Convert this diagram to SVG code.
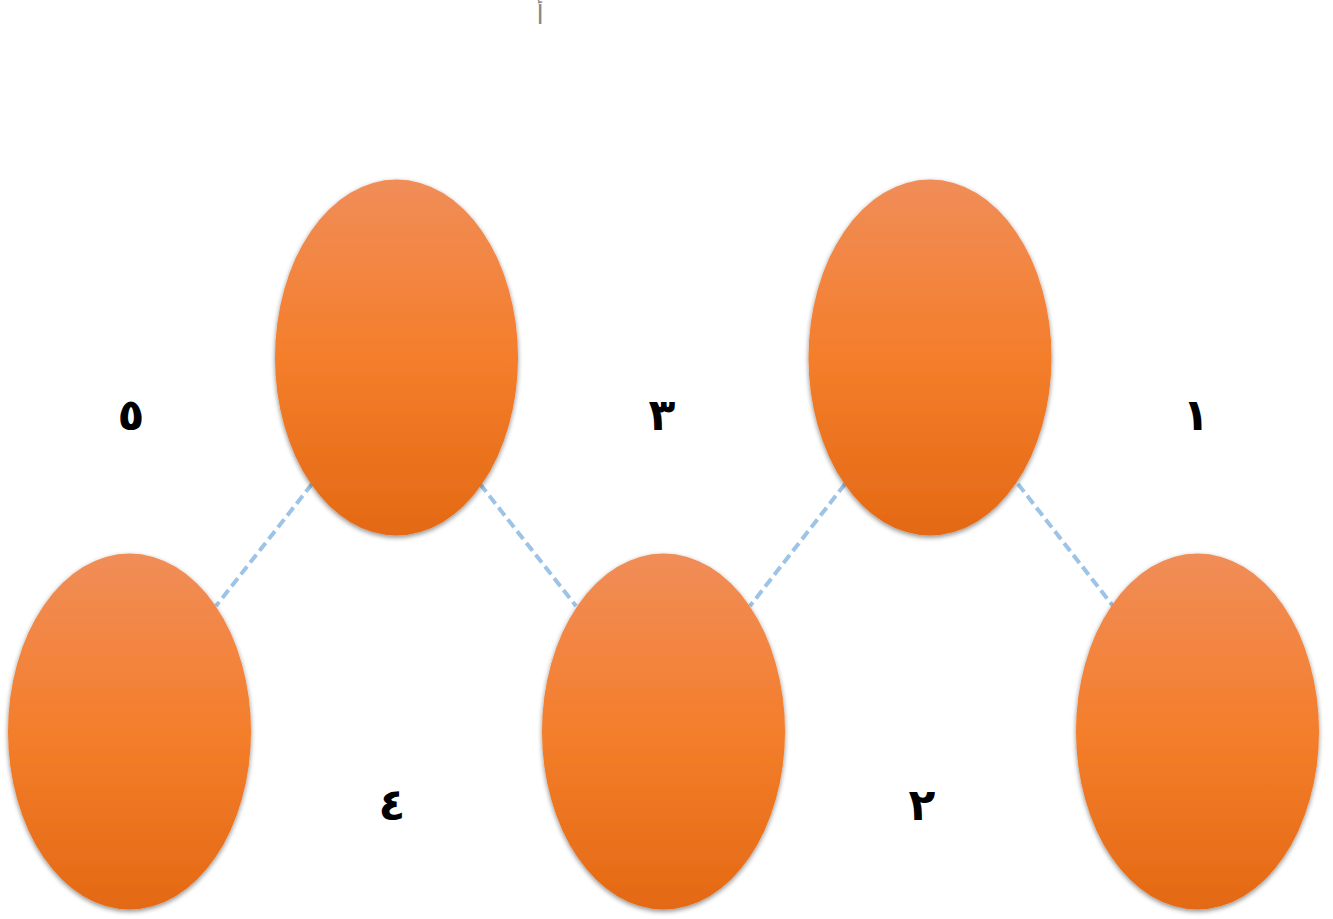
<svg xmlns="http://www.w3.org/2000/svg" width="1333" height="919" viewBox="0 0 1333 919">
<defs>
<linearGradient id="og" x1="0" y1="0" x2="0" y2="1">
<stop offset="0" stop-color="#F08D58"/>
<stop offset="0.5" stop-color="#F47E2B"/>
<stop offset="1" stop-color="#E46914"/>
</linearGradient>
<filter id="sh" x="-20%" y="-20%" width="140%" height="140%">
<feGaussianBlur in="SourceAlpha" stdDeviation="2.5"/>
<feOffset dx="0" dy="2" result="b"/>
<feComponentTransfer><feFuncA type="linear" slope="0.45"/></feComponentTransfer>
<feMerge><feMergeNode/><feMergeNode in="SourceGraphic"/></feMerge>
</filter>
</defs>
<style>
.conn{stroke:#9DC3E6;stroke-width:4;stroke-dasharray:10,5;fill:none}
.node{fill:url(#og);filter:url(#sh)}
.num{font-family:"DejaVu Sans",sans-serif;font-weight:bold;font-size:44px;fill:#000;text-anchor:middle}
</style>
<rect width="1333" height="919" fill="#fff"/>
<text x="540" y="24" font-family="DejaVu Sans, sans-serif" font-size="26" fill="#888" text-anchor="middle">أ</text>
<g id="connectors">
<line class="conn" x1="312" y1="484" x2="216" y2="606"/>
<line class="conn" x1="480" y1="484" x2="576" y2="606"/>
<line class="conn" x1="845" y1="484" x2="750" y2="606"/>
<line class="conn" x1="1018" y1="484" x2="1113" y2="606"/>
</g>
<g id="node-top-left"><ellipse class="node" cx="396.5" cy="357.5" rx="121.5" ry="178"/></g>
<g id="node-top-right"><ellipse class="node" cx="930" cy="357.5" rx="121.5" ry="178"/></g>
<g id="node-bottom-left"><ellipse class="node" cx="129.5" cy="731.5" rx="121.5" ry="178"/></g>
<g id="node-bottom-mid"><ellipse class="node" cx="663.5" cy="731.5" rx="121.5" ry="178"/></g>
<g id="node-bottom-right"><ellipse class="node" cx="1197.5" cy="731.5" rx="121.5" ry="178"/></g>
<g id="labels">
<text class="num" x="131" y="430">٥</text>
<text class="num" x="662" y="430">٣</text>
<text class="num" x="1196" y="430">١</text>
<text class="num" x="392" y="820">٤</text>
<text class="num" x="922" y="820">٢</text>
</g>
</svg>
